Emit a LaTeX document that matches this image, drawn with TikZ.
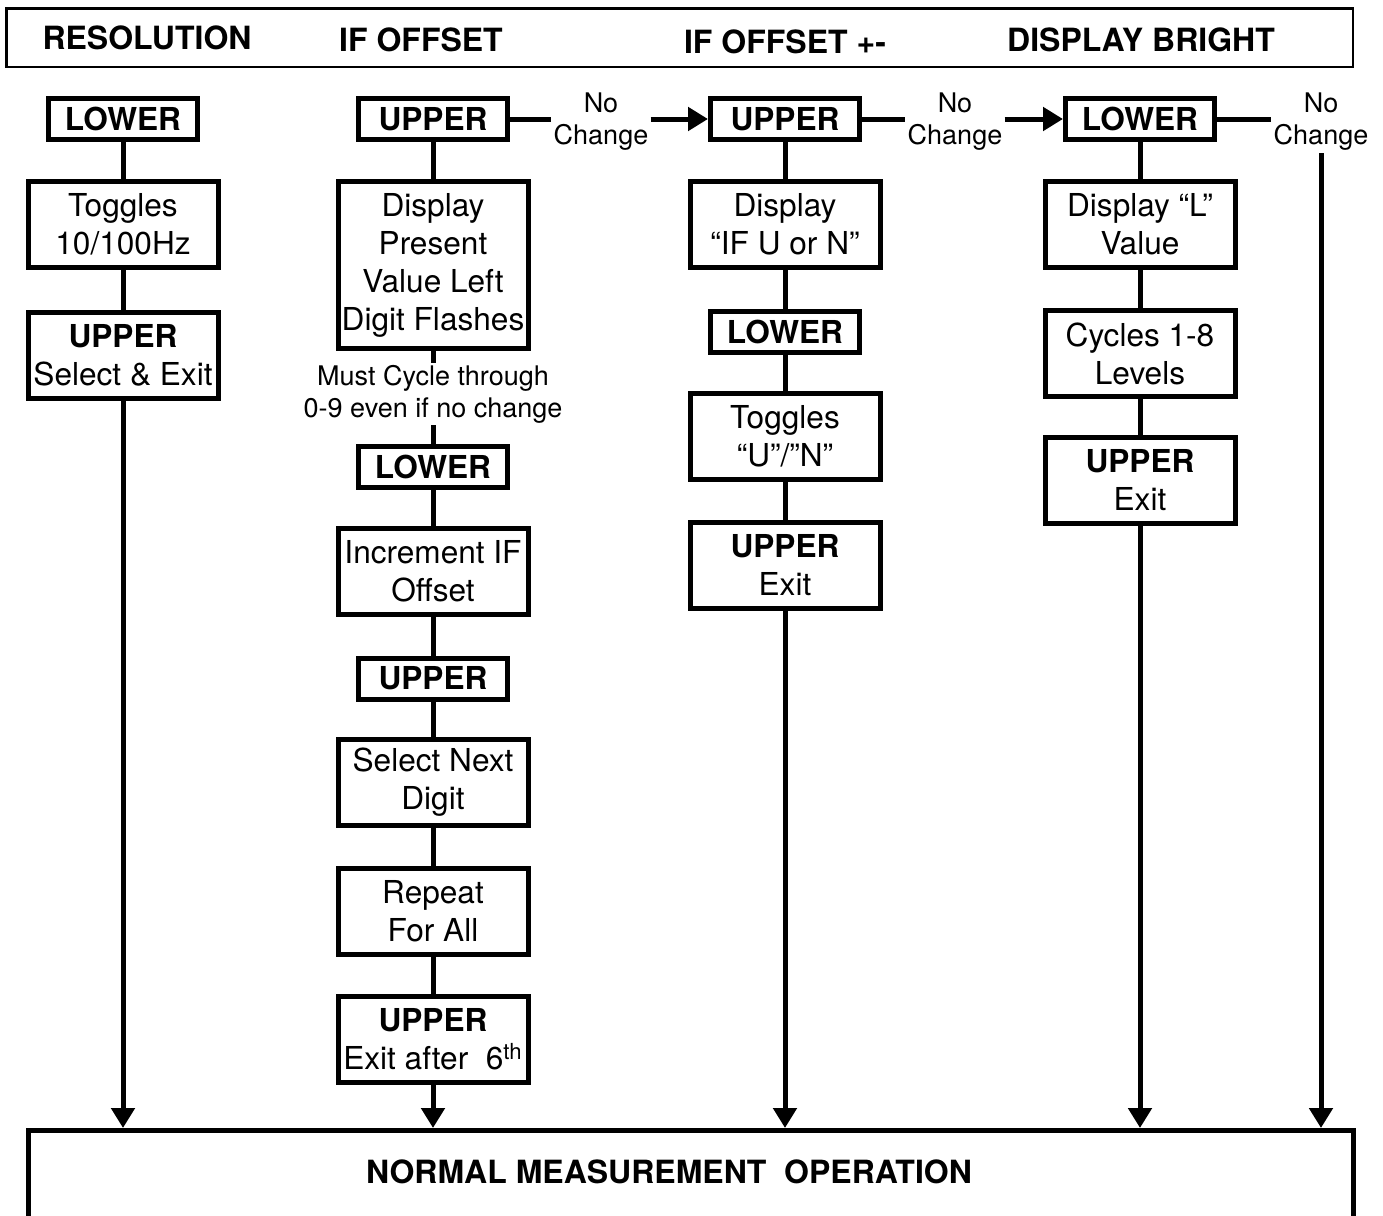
\documentclass[tikz,border=0pt]{standalone}
\usepackage{fontspec}
\setmainfont{TeX Gyre Heros}
\usetikzlibrary{arrows.meta}

\begin{document}
\begin{tikzpicture}[x=0.5pt,y=-0.5pt]
\tikzset{box/.style = {draw, line width=2.5pt, inner sep=0pt, align=center, font=\fontsize{15.8}{19}\selectfont}}
\tikzset{keybox/.style = {box, font=\fontsize{15.8}{19}\selectfont\bfseries, minimum width=74.5pt, minimum height=20.5pt}}
\tikzset{stepbox/.style = {box, minimum width=95pt, minimum height=43pt}}
\tikzset{title/.style = {inner sep=0pt, font=\fontsize{16}{19}\selectfont\bfseries}}
\tikzset{note/.style = {align=center, inner sep=1pt, font=\fontsize{13.5}{16}\selectfont}}
\tikzset{link/.style = {line width=2.5pt}}
\tikzset{edge/.style = {line width=2.5pt, -{Triangle[width=11.5pt,length=10pt]}}}
\useasboundingbox (0,0) rectangle (1383,1216);
\clip (0,0) rectangle (1383,1216);
% header
\node[draw, line width=1.25pt, minimum width=673.25pt, minimum height=29.25pt](head) at (679.5,37.5) {};
\node[title](tres) at (147,38) {RESOLUTION};
\node[title](toff) at (421,40) {IF OFFSET};
\node[title](tsign) at (785,42) {IF OFFSET +-};
\node[title](tbright) at (1141,40) {DISPLAY BRIGHT};
% resolution
\node[keybox](low1) at (123,119) {LOWER};
\node[stepbox](tog1) at (123,224.5) {Toggles\\10/100Hz};
\node[stepbox](up1) at (123,355.5) {\textbf{UPPER}\\Select \& Exit};
% if offset
\node[keybox](up2) at (433,119) {UPPER};
\node[stepbox, minimum height=83.5pt](disp2) at (433,265) {Display\\Present\\Value Left\\Digit Flashes};
\node[note](cyc2) at (433,394) {Must Cycle through\\0-9 even if no change};
\node[keybox](low2) at (433,466.5) {LOWER};
\node[stepbox](inc2) at (433,571.5) {Increment IF\\Offset};
\node[keybox](up2b) at (433,678.5) {UPPER};
\node[stepbox](sel2) at (433,782) {Select Next\\Digit};
\node[stepbox](rep2) at (433,911.5) {Repeat\\For All};
\node[stepbox](exit2) at (433,1039.5) {\textbf{UPPER}\\Exit after~~6\textsuperscript{th}};
\node[note](nc1) at (601,122) {No\\Change};
% if offset +-
\node[keybox](up3) at (785,119) {UPPER};
\node[stepbox](disp3) at (785,224.5) {Display\\“IF U or N”};
\node[keybox](low3) at (785,331.5) {LOWER};
\node[stepbox](tog3) at (785,436) {Toggles\\“U”/”N”};
\node[stepbox](exit3) at (785,565.5) {\textbf{UPPER}\\Exit};
\node[note](nc2) at (955,122) {No\\Change};
% display bright
\node[keybox](low4) at (1140,119) {LOWER};
\node[stepbox](disp4) at (1140,224.5) {Display “L”\\Value};
\node[stepbox](cyc4) at (1140,353.5) {Cycles 1-8\\Levels};
\node[stepbox](exit4) at (1140,480.5) {\textbf{UPPER}\\Exit};
\node[note](nc3) at (1321,122) {No\\Change};
% normal operation
\node[draw, line width=2.5pt, minimum width=662.5pt, minimum height=100pt, anchor=north](normal) at (691,1128) {};
\node[title](tnormal) at (669,1172) {NORMAL MEASUREMENT~~OPERATION};
% connectors
\draw[link] (low1) -- (tog1);
\draw[link] (tog1) -- (up1);
\draw[edge] (up1) -- (up1 |- normal.north);
\draw[link] (up2) -- (disp2);
\draw[link] (disp2) -- (cyc2);
\draw[link] (cyc2) -- (low2);
\draw[link] (low2) -- (inc2);
\draw[link] (inc2) -- (up2b);
\draw[link] (up2b) -- (sel2);
\draw[link] (sel2) -- (rep2);
\draw[link] (rep2) -- (exit2);
\draw[edge] (exit2) -- (exit2 |- normal.north);
\draw[link] (up2.east) -- (up2.east -| nc1.west);
\draw[edge] (nc1.east |- up3.west) -- (up3.west);
\draw[link] (up3) -- (disp3);
\draw[link] (disp3) -- (low3);
\draw[link] (low3) -- (tog3);
\draw[link] (tog3) -- (exit3);
\draw[edge] (exit3) -- (exit3 |- normal.north);
\draw[link] (up3.east) -- (up3.east -| nc2.west);
\draw[edge] (nc2.east |- low4.west) -- (low4.west);
\draw[link] (low4) -- (disp4);
\draw[link] (disp4) -- (cyc4);
\draw[link] (cyc4) -- (exit4);
\draw[edge] (exit4) -- (exit4 |- normal.north);
\draw[link] (low4.east) -- (low4.east -| nc3.west);
\draw[edge] (nc3.south) -- (nc3.south |- normal.north);
\end{tikzpicture}
\end{document}
